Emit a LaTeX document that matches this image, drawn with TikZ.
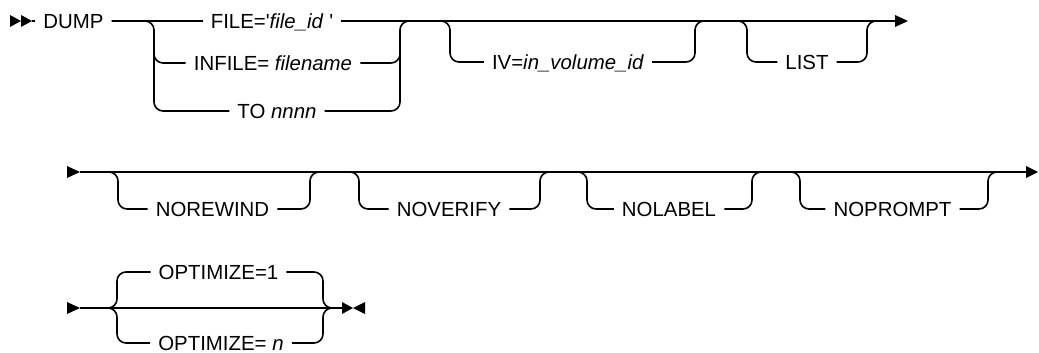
\documentclass[tikz,border=0pt]{standalone}
\usepackage{fontspec}
\setmainfont{Liberation Sans}
\begin{document}
\begin{tikzpicture}[x=1pt, y=-1pt,
  rail/.style={line width=1.6pt, rounded corners=9pt},
  kw/.style={inner xsep=8pt, inner ysep=0pt, text height=14.6pt, text depth=0pt,
             font=\fontsize{20.4pt}{24pt}\selectfont},
  railtip/.style={fill=black}]
\useasboundingbox (0,0) rectangle (1039,353);

% ---------- first line: DUMP and the input source ----------
\node[kw] (dump)   at (73.5,21) {DUMP};
\node[kw] (file)   at (272,21)  {FILE=\textquotesingle\textit{file\_id}\ \textquotesingle};
\node[kw] (infile) at (273,63)  {INFILE= \textit{filename}};
\node[kw] (to)     at (277,111) {TO \textit{nnnn}};
\node[kw] (iv)     at (568,62)  {IV=\textit{in\_volume\_id}};
\node[kw] (list)   at (807,62)  {LIST};

\coordinate (s1)    at (32,21);
\coordinate (e1)    at (895,21);
\coordinate (ch1l)  at (154,21);
\coordinate (ch1lm) at (154,40);
\coordinate (ch1r)  at (400,21);
\coordinate (ch1rm) at (400,40);
\coordinate (ch1rr) at (415,21);
\coordinate (o1ll)  at (435,21);
\coordinate (o1l)   at (450,21);
\coordinate (o1r)   at (695,21);
\coordinate (o1rr)  at (710,21);
\coordinate (o2ll)  at (732,21);
\coordinate (o2l)   at (747,21);
\coordinate (o2r)   at (867,21);
\coordinate (o2rr)  at (882,21);

% double start mark
\fill[railtip] (10,15) -- (21,21) -- (10,27) -- cycle;
\fill[railtip] (21,15) -- (32,21) -- (21,27) -- cycle;
\draw[rail] (s1) -- (dump.west);
\draw[rail] (dump.east) -- (file.west);
\draw[rail] (file.east) -- (e1);
% choice of FILE / INFILE / TO
\draw[rail] (dump.east) -- (ch1l) |- (to.west);
\draw[rail] (ch1lm) |- (infile.west);
\draw[rail] (to.east) -| (ch1r) -- (ch1rr);
\draw[rail] (infile.east) -| (ch1rm);
% optional IV
\draw[rail] (o1ll) -- (o1l) |- (iv.west);
\draw[rail] (iv.east) -| (o1r) -- (o1rr);
% optional LIST
\draw[rail] (o2ll) -- (o2l) |- (list.west);
\draw[rail] (list.east) -| (o2r) -- (o2rr);
% continuation mark
\fill[railtip] (895,15) -- (908,21) -- (895,27) -- cycle;

% ---------- second line: optional switches ----------
\node[kw] (norew) at (212.5,209) {NOREWIND};
\node[kw] (nover) at (449,209)   {NOVERIFY};
\node[kw] (nolab) at (669,209)   {NOLABEL};
\node[kw] (noprm) at (892.5,209) {NOPROMPT};

\coordinate (s2) at (80,172);
\coordinate (e2) at (1026,172);
\fill[railtip] (67,166) -- (80,172) -- (67,178) -- cycle;
\draw[rail] (s2) -- (e2);
\fill[railtip] (1026,166) -- (1038,172) -- (1026,178) -- cycle;

\coordinate (a1ll) at (103,172);  \coordinate (a1l) at (118,172);
\coordinate (a1r)  at (310,172);  \coordinate (a1rr) at (325,172);
\coordinate (a2ll) at (344,172);  \coordinate (a2l) at (359,172);
\coordinate (a2r)  at (540,172);  \coordinate (a2rr) at (555,172);
\coordinate (a3ll) at (572,172);  \coordinate (a3l) at (587,172);
\coordinate (a3r)  at (752,172);  \coordinate (a3rr) at (767,172);
\coordinate (a4ll) at (785,172);  \coordinate (a4l) at (800,172);
\coordinate (a4r)  at (988,172);  \coordinate (a4rr) at (1003,172);

\draw[rail] (a1ll) -- (a1l) |- (norew.west);
\draw[rail] (norew.east) -| (a1r) -- (a1rr);
\draw[rail] (a2ll) -- (a2l) |- (nover.west);
\draw[rail] (nover.east) -| (a2r) -- (a2rr);
\draw[rail] (a3ll) -- (a3l) |- (nolab.west);
\draw[rail] (nolab.east) -| (a3r) -- (a3rr);
\draw[rail] (a4ll) -- (a4l) |- (noprm.west);
\draw[rail] (noprm.east) -| (a4r) -- (a4rr);

% ---------- third line: OPTIMIZE ----------
\node[kw] (opt1) at (218.5,272) {OPTIMIZE=1};
\node[kw] (optn) at (221,343)   {OPTIMIZE= \textit{n}};

\coordinate (s3)    at (80,308);
\coordinate (e3)    at (342,308);
\coordinate (ch3ll) at (104,308);
\coordinate (ch3l)  at (117,308);
\coordinate (ch3r)  at (323,308);
\coordinate (ch3rr) at (336,308);

\fill[railtip] (67,302) -- (80,308) -- (67,314) -- cycle;
\draw[rail] (s3) -- (e3);
\draw[rail] (ch3ll) -- (ch3l) |- (opt1.west);
\draw[rail] (ch3ll) -- (ch3l) |- (optn.west);
\draw[rail] (opt1.east) -| (ch3r) -- (ch3rr);
\draw[rail] (optn.east) -| (ch3r) -- (ch3rr);
% end mark
\fill[railtip] (342,302) -- (353,308) -- (342,314) -- cycle;
\fill[railtip] (365,302) -- (353,308) -- (365,314) -- cycle;
\end{tikzpicture}
\end{document}
